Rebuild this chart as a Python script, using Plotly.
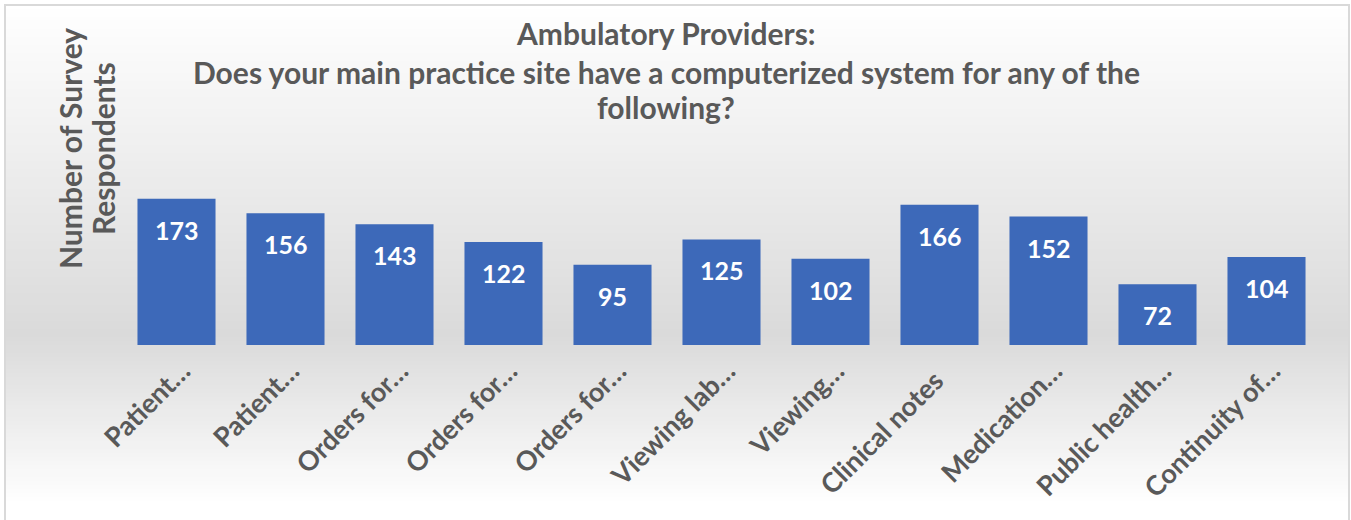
import plotly.graph_objects as go

categories = ["Patient…", "Patient…", "Orders for…", "Orders for…", "Orders for…",
              "Viewing lab…", "Viewing…", "Clinical notes", "Medication…",
              "Public health…", "Continuity of…"]
respondents = [173, 156, 143, 122, 95, 125, 102, 166, 152, 72, 104]

title_lines = ["Ambulatory Providers:",
               "Does your main practice site have a computerized system for any of the",
               "following?"]
y_title_lines = ["Number of Survey", "Respondents"]

W, H = 1351, 520
ML, MR, MT, MB = 122, 30, 176, 175
PW, PH = W - ML - MR, H - MT - MB
FONT = "Lato"
GREY = "#595959"

def px2x(px):
    return (px - ML) / PW

def px2y(py):
    return (H - MB - py) / PH

x_pos = list(range(len(categories)))

# Excel offsets truncated ("…") labels along their direction; untruncated ones
# are padded with non-breaking spaces to reproduce that alignment.
tick_text = [f"<b>{c}</b>" if c.endswith("…") else f"<b>{c}</b>" + "\u00a0" * 2
             for c in categories]

fig = go.Figure()
fig.add_trace(go.Bar(
    x=x_pos, y=respondents,
    marker=dict(color="#3d69b9", line=dict(width=0)),
    hoverinfo="y",
))

# data labels inside the bar tops
for xi, v in zip(x_pos, respondents):
    fig.add_annotation(x=xi, y=v, xref="x", yref="y", text=f"<b>{v}</b>",
                       showarrow=False, yanchor="middle", yshift=-31,
                       font=dict(family=FONT, size=25, color="white"))

# background gradient (chart area) drawn as thin stripes
shapes = []
top, mid, bot = 5, 335, 505
step = 4
py = top
while py < H:
    y0, y1 = py, min(py + step, H)
    c = (y0 + y1) / 2
    if c <= mid:
        g = 255 - (255 - 218) * (c - top) / (mid - top)
    elif c <= bot:
        g = 218 + (255 - 218) * (c - mid) / (bot - mid)
    else:
        g = 255
    g = int(round(g))
    shapes.append(dict(type="rect", xref="paper", yref="paper", layer="below",
                       x0=px2x(5), x1=px2x(1349), y0=px2y(y1), y1=px2y(y0),
                       fillcolor=f"rgb({g},{g},{g})", line=dict(width=0)))
    py += step
# chart border
shapes.append(dict(type="rect", xref="paper", yref="paper", layer="above",
                   x0=px2x(5), x1=px2x(1349), y0=px2y(530), y1=px2y(5),
                   fillcolor="rgba(0,0,0,0)", line=dict(color="#d9d9d9", width=2)))

fig.update_layout(
    width=W, height=H,
    margin=dict(l=ML, r=MR, t=MT, b=MB, pad=0, autoexpand=False),
    paper_bgcolor="white", plot_bgcolor="rgba(0,0,0,0)",
    showlegend=False, bargap=0.284,
    shapes=shapes,
    font=dict(family=FONT, color=GREY),
    xaxis=dict(range=[-0.5, len(categories) - 0.5], tickmode="array",
               tickvals=x_pos, ticktext=tick_text,
               tickangle=-45, tickfont=dict(family=FONT, size=27, color=GREY),
               ticklabelstandoff=4, ticklabelshift=6, automargin=False,
               showgrid=False, zeroline=False, showline=False, ticks=""),
    yaxis=dict(range=[0, 200], visible=False, showgrid=False, zeroline=False,
               automargin=False),
)

title_y = [33, 72, 107]
for t, ty in zip(title_lines, title_y):
    fig.add_annotation(xref="paper", yref="paper", x=px2x(666), y=px2y(ty),
                       text=f"<b>{t}</b>", showarrow=False,
                       xanchor="center", yanchor="middle",
                       font=dict(family=FONT, size=30, color=GREY))

for t, tx in zip(y_title_lines, [70, 103]):
    fig.add_annotation(xref="paper", yref="paper", x=px2x(tx), y=px2y(149),
                       text=f"<b>{t}</b>", showarrow=False, textangle=-90,
                       xanchor="center", yanchor="middle",
                       font=dict(family=FONT, size=30, color=GREY))

fig.write_html("out.html", config={"displayModeBar": False},
               post_script="document.body.style.margin='0';")
